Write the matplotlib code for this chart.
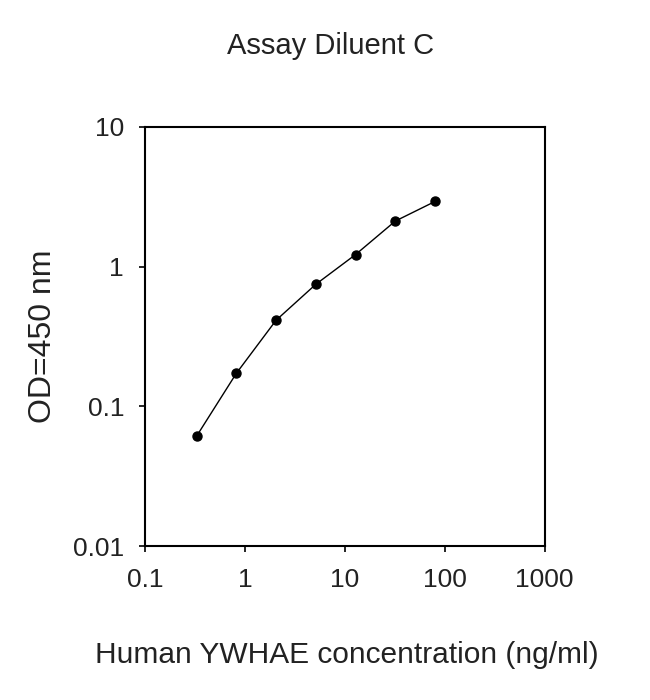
import matplotlib
matplotlib.use("Agg")
import matplotlib.pyplot as plt
from matplotlib.ticker import FixedLocator, FixedFormatter, NullLocator

plt.rcParams["font.family"] = ["Liberation Sans", "DejaVu Sans"]

# concentrations (ng/ml) and OD readings
conc = [0.328, 0.82, 2.05, 5.12, 12.8, 32, 80]
od = [0.061, 0.172, 0.413, 0.747, 1.22, 2.12, 2.93]

x_ticks = [0.1, 1, 10, 100, 1000]
x_labels = ["0.1", "1", "10", "100", "1000"]
y_ticks = [0.01, 0.1, 1, 10]
y_labels = ["0.01", "0.1", "1", "10"]

fig = plt.figure(figsize=(6.5, 7), dpi=100)
ax = fig.add_axes([0.223, 0.22, 0.615, 0.5986])

ax.plot(conc, od, color="black", linewidth=1, marker="o", markersize=6.5)

ax.set_xscale("log")
ax.set_yscale("log")
ax.set_xlim(0.1, 1000)
ax.set_ylim(0.01, 10)

ax.xaxis.set_major_locator(FixedLocator(x_ticks))
ax.xaxis.set_major_formatter(FixedFormatter(x_labels))
ax.xaxis.set_minor_locator(NullLocator())
ax.yaxis.set_major_locator(FixedLocator(y_ticks))
ax.yaxis.set_major_formatter(FixedFormatter(y_labels))
ax.yaxis.set_minor_locator(NullLocator())

ax.tick_params(direction="out", length=4, width=1.2, labelsize=19, pad=11,
               labelcolor="#222222")
ax.tick_params(axis="x", pad=12)
for s in ax.spines.values():
    s.set_linewidth(1.5)

fig.text(0.508, 0.934, "Assay Diluent C", ha="center", va="center", fontsize=21,
         color="#222222")
fig.text(0.534, 0.064, "Human YWHAE concentration (ng/ml)", ha="center", va="center",
         fontsize=21.5, color="#222222")
fig.text(0.066, 0.52, "OD=450 nm", ha="center", va="center", rotation=90, fontsize=23,
         color="#222222")

fig.savefig("out.png", dpi=100)
